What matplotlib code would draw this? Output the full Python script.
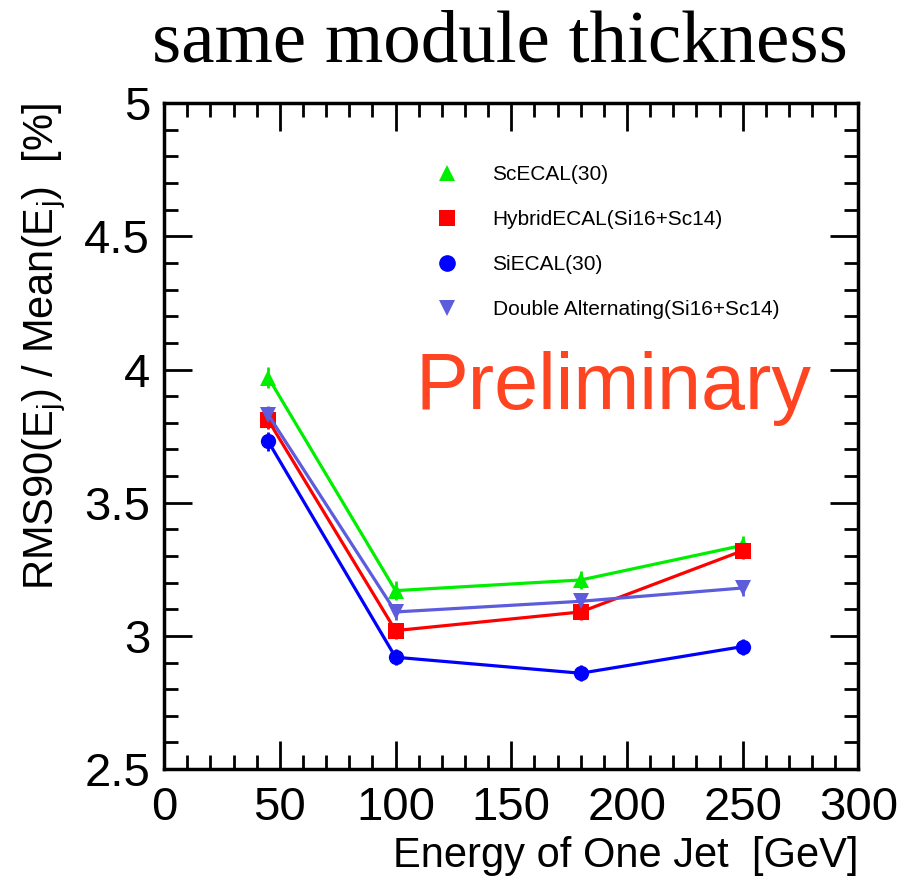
import matplotlib.pyplot as plt
from matplotlib.lines import Line2D
from matplotlib.ticker import MultipleLocator

# data
energy = [45, 100, 180, 250]
sc_ecal = [3.97, 3.17, 3.21, 3.34]
sc_err = [0.04, 0.035, 0.035, 0.035]
hybrid = [3.81, 3.02, 3.09, 3.32]
hybrid_err = [0.035, 0.03, 0.03, 0.03]
si_ecal = [3.73, 2.92, 2.86, 2.96]
si_err = [0.035, 0.03, 0.03, 0.03]
double_alt = [3.83, 3.09, 3.13, 3.18]
double_err = [0.035, 0.03, 0.03, 0.03]

labels = ['ScECAL(30)', 'HybridECAL(Si16+Sc14)', 'SiECAL(30)',
          'Double Alternating(Si16+Sc14)']
colors = ['#00ee00', '#ff0000', '#0000ff', '#5c5cdc']
markers = ['^', 's', 'o', 'v']

plt.rcParams['font.family'] = ['Liberation Sans', 'DejaVu Sans']
plt.rcParams['mathtext.fontset'] = 'custom'
plt.rcParams['mathtext.rm'] = 'Liberation Sans'
plt.rcParams['mathtext.it'] = 'Liberation Sans'

fig = plt.figure(figsize=(9.22, 8.82), dpi=100)
ax = fig.add_axes([0.178, 0.128, 0.753, 0.755])

series = [(sc_ecal, sc_err), (hybrid, hybrid_err), (si_ecal, si_err),
          (double_alt, double_err)]
for (vals, errs), c, m in zip(series, colors, markers):
    ax.errorbar(energy, vals, yerr=errs, color=c, marker=m, markersize=11,
                linewidth=2.3, elinewidth=2, capsize=3, capthick=2,
                markeredgewidth=0)

ax.set_xlim(0, 300)
ax.set_ylim(2.5, 5)
ax.xaxis.set_major_locator(MultipleLocator(50))
ax.xaxis.set_minor_locator(MultipleLocator(10))
ax.yaxis.set_major_locator(MultipleLocator(0.5))
ax.yaxis.set_minor_locator(MultipleLocator(0.1))
ax.tick_params(which='both', direction='in', top=True, right=True, width=2)
ax.tick_params(which='major', length=20, labelsize=34, pad=12)
ax.tick_params(axis='y', which='major', pad=10)
ax.tick_params(which='minor', length=10)
ax.set_yticks([2.5, 3, 3.5, 4, 4.5, 5])
ax.set_yticklabels(['2.5', '3', '3.5', '4', '4.5', '5'])
for sp in ax.spines.values():
    sp.set_linewidth(2.5)

ax.set_xlabel('Energy of One Jet  [GeV]', fontsize=30, loc='right')
ax.set_ylabel('RMS90(E$_{j}$) / Mean(E$_{j}$)  [%]', fontsize=30, loc='top')
ax.xaxis.set_label_coords(1.0, -0.1)
ax.yaxis.set_label_coords(-0.138, 1.0)

handles = [Line2D([], [], color=c, marker=m, linestyle='none', markersize=12,
                  markeredgewidth=0) for c, m in zip(colors, markers)]
ax.legend(handles, labels, loc='upper left', bbox_to_anchor=(0.35, 0.935),
          frameon=False, fontsize=15, labelspacing=1.25, handletextpad=1.2)

ax.text(0.362, 0.572, 'Preliminary', transform=ax.transAxes, fontsize=57,
        color='#ff4422', ha='left', va='center')

fig.text(0.542, 0.95, 'same module thickness', fontsize=54,
         family='Liberation Serif', ha='center', va='center')

fig.savefig('out.png', dpi=100)
